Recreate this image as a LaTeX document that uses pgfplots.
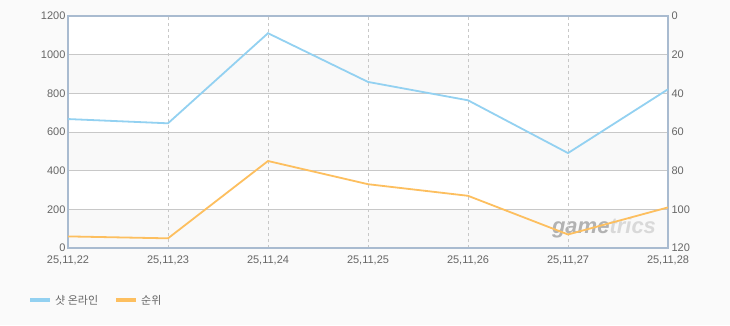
\documentclass[border=0pt]{standalone}
\usepackage{pgfplots}
\pgfplotsset{compat=1.18}
\usepackage{fontspec}
\setmainfont{Liberation Sans}
\newfontfamily\kr{Noto Sans CJK KR}
\definecolor{bg}{HTML}{FAFAFA}
\definecolor{band}{HTML}{F9F9F9}
\definecolor{frame}{HTML}{A9BBD0}
\definecolor{gridc}{HTML}{C8C8C8}
\definecolor{txt}{HTML}{666666}
\definecolor{lblue}{HTML}{93D1F1}
\definecolor{lorange}{HTML}{FDBF5F}
\begin{document}
\begin{tikzpicture}[x=1pt,y=1pt]
\fill[bg] (0,0) rectangle (730,325);
\fill[white] (68,77) rectangle (668,309);
\foreach \i in {0,2,4} \fill[band] (68,{77+\i*38.667}) rectangle (668,{77+(\i+1)*38.667});
\node[anchor=center,font=\bfseries\itshape\fontsize{22}{22}\selectfont,inner sep=0] at (604,97) {\textcolor{black!30}{game}\textcolor{black!15}{trics}};
\begin{axis}[
  at={(68pt,77pt)}, anchor=south west, scale only axis,
  width=600pt, height=232pt,
  xmin=0, xmax=6, ymin=0, ymax=1200,
  xtick={0,...,6},
  xticklabels={{25,11,22},{25,11,23},{25,11,24},{25,11,25},{25,11,26},{25,11,27},{25,11,28}},
  ytick={0,200,...,1200},
  major tick length=0pt,
  axis line style={frame, line width=1.5pt},
  xmajorgrids, ymajorgrids,
  x grid style={gridc, dashed, line width=0.6pt},
  y grid style={gridc, line width=0.8pt},
  tick label style={font=\fontsize{11}{12}\selectfont, text=txt},
  /pgf/number format/assume math mode=true,
  /pgf/number format/1000 sep={},
  yticklabel style={xshift=1pt},
  xticklabel style={yshift=-4pt},
]
\addplot[lblue, line width=1.8pt] coordinates {
(0,667) (1,645) (2,1111) (3,859) (4,764) (5,491) (6,821)};
\end{axis}
\begin{axis}[
  at={(68pt,77pt)}, anchor=south west, scale only axis,
  width=600pt, height=232pt,
  xmin=0, xmax=6, ymin=0, ymax=120, y dir=reverse,
  axis y line*=right, axis x line=none,
  axis line style={draw=none},
  ytick={0,20,...,120},
  major tick length=0pt,
  tick label style={font=\fontsize{11}{12}\selectfont, text=txt},
  /pgf/number format/assume math mode=true,
]
\addplot[lorange, line width=1.8pt] coordinates {
(0,114) (1,115) (2,75) (3,87) (4,93) (5,113) (6,99)};
\end{axis}
\draw[lblue, line width=4pt] (30,25) -- (50,25);
\node[anchor=west, text=txt, font=\kr\fontsize{11}{12}\selectfont, inner sep=0] at (55,25) {샷 온라인};
\draw[lorange, line width=4pt] (116,25) -- (136,25);
\node[anchor=west, text=txt, font=\kr\fontsize{11}{12}\selectfont, inner sep=0] at (141,25) {순위};
\end{tikzpicture}
\end{document}
